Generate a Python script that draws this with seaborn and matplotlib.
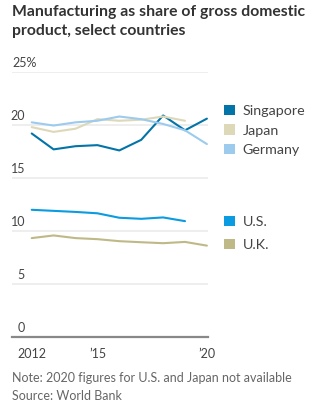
import numpy as np
import pandas as pd
import matplotlib
matplotlib.use("Agg")
import matplotlib.pyplot as plt
from matplotlib.patches import Patch
import seaborn as sns

years = [2012, 2013, 2014, 2015, 2016, 2017, 2018, 2019, 2020]
singapore = [19.2, 17.7, 18.0, 18.1, 17.6, 18.6, 20.9, 19.5, 20.6]
japan = [19.8, 19.35, 19.65, 20.55, 20.4, 20.5, 20.8, 20.4, np.nan]
germany = [20.25, 19.95, 20.25, 20.4, 20.8, 20.55, 20.1, 19.5, 18.2]
us = [12.0, 11.9, 11.8, 11.67, 11.25, 11.15, 11.28, 10.93, np.nan]
uk = [9.33, 9.58, 9.33, 9.23, 9.04, 8.94, 8.85, 8.97, 8.62]
countries = ["Singapore", "Japan", "Germany", "U.S.", "U.K."]
colors = ["#0274A8", "#DDD8B8", "#9CCBEE", "#0A9BE0", "#BFB987"]
yticks = [0, 5, 10, 15, 20, 25]
ytick_labels = ["0", "5", "10", "15", "20", "25%"]
xtick_labels = ["2012", "", "", "\u201915", "", "", "", "", "\u201920"]
title = "Manufacturing as share of gross domestic\nproduct, select countries"
note = "Note: 2020 figures for U.S. and Japan not available\nSource: World Bank"

series = dict(zip(countries, [singapore, japan, germany, us, uk]))
df = pd.DataFrame([{"year": y, "country": c, "value": v}
                   for c, vals in series.items() for y, v in zip(years, vals)])
df = df.dropna()

sns.set_style("white")
plt.rcParams["font.family"] = ["Lato", "DejaVu Sans"]

W, H = 324, 413
fig = plt.figure(figsize=(W / 100, H / 100), dpi=100)
ax = fig.add_axes([12 / W, 76 / H, (208 - 12) / W, (337 - 72) / H])

palette = dict(zip(countries, colors))
sns.lineplot(data=df, x="year", y="value", hue="country", palette=palette,
             hue_order=countries, linewidth=1.5, legend=False, ax=ax)

ax.set_xlim(2011.1, 2020.05)
ax.set_ylim(0, 25)
for s in ["top", "right", "left"]:
    ax.spines[s].set_visible(False)
ax.spines["bottom"].set_color("#888888")
ax.spines["bottom"].set_linewidth(1.6)
ax.set_xlabel("")
ax.set_ylabel("")
ax.set_yticks(yticks)
ax.set_yticklabels([])
ax.tick_params(axis="y", length=0)
ax.grid(axis="y", color="#EBEBEB", linewidth=1.2)
ax.grid(axis="x", visible=False)
ax.set_axisbelow(True)
label_x = (25 - 12) / (208 - 12)
for t, lab in zip(yticks, ytick_labels):
    if lab.endswith("%"):
        ax.text(0.0, t + 0.25, lab, transform=ax.get_yaxis_transform(),
                ha="left", va="bottom", fontsize=9, color="#444444")
    else:
        ax.text(label_x, t + 0.25, lab, transform=ax.get_yaxis_transform(),
                ha="right", va="bottom", fontsize=9, color="#444444")

ax.set_xticks(years)
ax.set_xticklabels(xtick_labels)
ax.tick_params(axis="x", length=4, width=1, color="#444444", labelsize=9,
               labelcolor="#444444", pad=4, direction="out")

fig.text(12 / W, 1 - 5 / H, title, ha="left", va="top", fontsize=11.3,
         fontweight="bold", color="#333333", linespacing=1.5)
fig.text(12 / W, 1 - 372 / H, note, ha="left", va="top", fontsize=9,
         color="#666666", linespacing=1.6)

h1 = [Patch(facecolor=c, edgecolor="none") for c in colors[:3]]
h2 = [Patch(facecolor=c, edgecolor="none") for c in colors[3:]]
kw = dict(frameon=False, handlelength=0.75, handleheight=0.75, handletextpad=0.55,
          fontsize=10.3, labelcolor="#444444", borderaxespad=0,
          borderpad=0, loc="upper left")
fig.legend(h1, countries[:3], bbox_to_anchor=(224 / W, 1 - 105 / H),
           labelspacing=0.5, **kw)
fig.legend(h2, countries[3:], bbox_to_anchor=(224 / W, 1 - 216 / H),
           labelspacing=0.72, **kw)

fig.savefig("out.png", dpi=100, facecolor="white")
